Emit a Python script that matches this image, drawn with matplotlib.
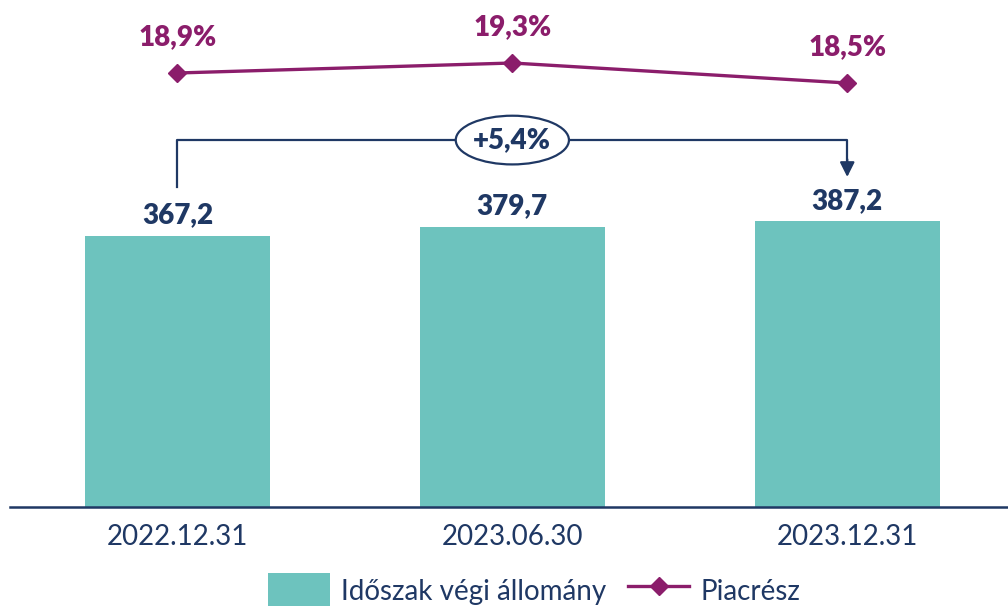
import numpy as np
import matplotlib as mpl
import matplotlib.pyplot as plt
from matplotlib.patches import Ellipse

mpl.rcParams['font.family'] = ['Lato', 'DejaVu Sans']

# data -------------------------------------------------------------------------
periods = ['2022.12.31', '2023.06.30', '2023.12.31']
stock = [367.2, 379.7, 387.2]          # Időszak végi állomány
share = [18.9, 19.3, 18.5]             # Piacrész (%)
growth_label = '+5,4%'

teal = '#6DC3BE'
magenta = '#8B1D6B'
navy = '#1F3864'
bold = 'heavy'

def fmt(v, d=1):
    return ('%.*f' % (d, v)).replace('.', ',')

# figure -----------------------------------------------------------------------
fig = plt.figure(figsize=(10.08, 6.06), dpi=100)
ax = fig.add_axes([10 / 1008, 1 - 507 / 606, 1 - 10 / 1008, 507 / 606])
x = np.arange(len(periods))

bars = ax.bar(x, stock, width=0.552, color=teal, zorder=2,
              label='Időszak végi állomány')
ax.set_xlim(-0.5, 2.48)
ax.set_ylim(0, 687)
for s in ('top', 'right', 'left'):
    ax.spines[s].set_visible(False)
ax.spines['bottom'].set_color(navy)
ax.spines['bottom'].set_linewidth(1.8)
ax.set_yticks([])
ax.set_xticks(x)
ax.set_xticklabels(periods, fontsize=20, color=navy)
ax.tick_params(axis='x', length=0, pad=12)

for xi, v in zip(x, stock):
    ax.annotate(fmt(v), (xi, v), xytext=(0, 9), textcoords='offset points',
                ha='center', va='baseline', fontsize=20, fontweight=bold,
                color=navy)

# market share line ------------------------------------------------------------
ax2 = ax.twinx()
ax2.axis('off')
ax2.set_ylim(18.9 - 434 / 25, 18.9 + 73 / 25)
ln, = ax2.plot(x, share, color=magenta, lw=2.4, marker='D', ms=9,
               label='Piacrész', zorder=3)
for xi, v in zip(x, share):
    ax2.annotate(fmt(v) + '%', (xi, v), xytext=(0, 20),
                 textcoords='offset points', ha='center', va='baseline',
                 fontsize=20, fontweight=bold, color=magenta)

# growth bracket ---------------------------------------------------------------
yb = max(stock) + 110
ax.plot([x[0], x[0], x[-1], x[-1]], [stock[0] + 66, yb, yb, stock[-1] + 82],
        color=navy, lw=1.6, zorder=4)
ax.annotate('', xy=(x[-1], stock[-1] + 60), xytext=(x[-1], stock[-1] + 84),
            arrowprops=dict(arrowstyle='-|>', color=navy, lw=1.6,
                            mutation_scale=22, shrinkA=0, shrinkB=0))
xm = (x[0] + x[-1]) / 2
ax.add_patch(Ellipse((xm, yb), 0.338, 66, facecolor='white', edgecolor=navy,
                     lw=1.6, zorder=5))
ax.text(xm, yb, growth_label, ha='center', va='center', fontsize=20,
        fontweight=bold, color=navy, zorder=6)

# legend -----------------------------------------------------------------------
fig.legend(handles=[bars, ln], loc='lower center', bbox_to_anchor=(0.53, -0.045),
           ncol=2, frameon=False, fontsize=20, labelcolor=navy,
           handlelength=2.2, handleheight=1.6, handletextpad=0.4,
           columnspacing=0.8)

fig.savefig('out.png', dpi=100)
